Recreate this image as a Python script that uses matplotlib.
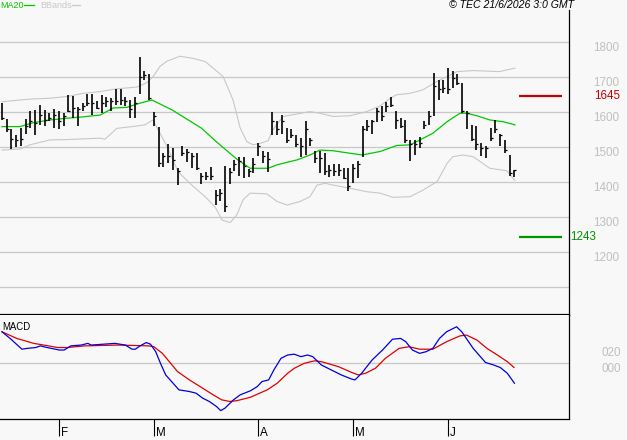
import matplotlib
matplotlib.use("Agg")
import matplotlib.pyplot as plt
import numpy as np
from matplotlib.lines import Line2D
from matplotlib.transforms import blended_transform_factory

plt.rcParams["font.family"] = ["Liberation Sans", "DejaVu Sans"]

# Barre giornaliere (massimo, minimo, chiusura)
highs = [1624, 1581, 1550, 1533, 1554, 1580, 1602, 1604, 1621, 1605,
         1597, 1609, 1602, 1597, 1647, 1645, 1614, 1626, 1652, 1651,
         1630, 1647, 1642, 1640, 1664, 1666, 1642, 1635, 1642, 1758,
         1718, 1709, 1600, 1557, 1483, 1509, 1497, 1440, 1504, 1495,
         1483, 1483, 1426, 1428, 1443, 1378, 1380, 1445, 1440, 1464,
         1471, 1471, 1437, 1468, 1511, 1488, 1485, 1599, 1573, 1590,
         1554, 1550, 1535, 1526, 1573, 1526, 1488, 1488, 1483, 1447,
         1450, 1450, 1440, 1440, 1450, 1459, 1559, 1578, 1578, 1611,
         1616, 1628, 1642, 1602, 1583, 1576, 1519, 1521, 1529, 1573,
         1602, 1711, 1692, 1692, 1726, 1716, 1707, 1683, 1602, 1564,
         1559, 1511, 1502, 1554, 1578, 1538, 1519, 1478, 1435]
lows = [1578, 1543, 1495, 1500, 1502, 1537, 1554, 1535, 1564, 1559,
        1575, 1554, 1550, 1559, 1601, 1583, 1559, 1602, 1616, 1592,
        1607, 1597, 1614, 1602, 1621, 1621, 1616, 1583, 1583, 1650,
        1690, 1634, 1561, 1443, 1443, 1454, 1433, 1390, 1475, 1456,
        1440, 1435, 1395, 1405, 1405, 1335, 1345, 1313, 1395, 1431,
        1416, 1411, 1414, 1426, 1473, 1454, 1428, 1535, 1535, 1538,
        1511, 1526, 1500, 1471, 1478, 1502, 1454, 1426, 1421, 1414,
        1418, 1418, 1407, 1373, 1397, 1411, 1471, 1545, 1538, 1571,
        1573, 1599, 1614, 1550, 1554, 1511, 1459, 1478, 1497, 1551,
        1564, 1588, 1635, 1654, 1650, 1669, 1678, 1597, 1550, 1516,
        1492, 1473, 1469, 1516, 1540, 1504, 1483, 1418, 1414]
closes = [1582, 1552, 1523, 1521, 1524, 1561, 1573, 1567, 1592, 1578,
          1583, 1592, 1573, 1588, 1602, 1611, 1609, 1618, 1626, 1626,
          1611, 1624, 1630, 1630, 1630, 1635, 1630, 1607, 1626, 1700,
          1705, 1640, 1588, 1454, 1473, 1473, 1464, 1430, 1483, 1485,
          1473, 1440, 1418, 1416, 1416, 1364, 1369, 1331, 1428, 1450,
          1459, 1445, 1430, 1450, 1502, 1475, 1466, 1573, 1550, 1573,
          1521, 1535, 1507, 1502, 1550, 1521, 1469, 1469, 1430, 1435,
          1430, 1433, 1411, 1388, 1440, 1450, 1550, 1559, 1573, 1602,
          1588, 1616, 1621, 1578, 1559, 1521, 1507, 1507, 1512, 1564,
          1588, 1673, 1664, 1669, 1664, 1697, 1683, 1602, 1597, 1523,
          1507, 1497, 1497, 1526, 1550, 1535, 1490, 1426, 1433]

# Media mobile 20 e bande di Bollinger (indice barra, valore)
ma20_idx = [0, 3.8, 6.5, 10.1, 13.7, 16.4, 20.7, 23.4, 26.3, 29.1, 31.6,
            35.8, 42.1, 44.9, 49.5, 52.3, 56.1, 58, 62.2, 64.9, 67, 69.8,
            73.3, 75.9, 79.7, 83.2, 86, 88.1, 90.8, 93.8, 96.5, 98, 100.1,
            102.8, 105.6, 108.1]
ma20 = [1558, 1558, 1569, 1577, 1582, 1585, 1591, 1611, 1613, 1625, 1634,
        1606, 1553, 1518, 1465, 1439, 1439, 1449, 1463, 1477, 1491, 1489,
        1482, 1477, 1487, 1504, 1506, 1520, 1539, 1572, 1596, 1596, 1589,
        1577, 1572, 1563]

bb_up_idx = [0, 3.8, 6.5, 10.1, 13.7, 17.1, 20.7, 24.2, 28.5, 30.6, 31.8,
             33.3, 34.8, 37.5, 40.2, 42.8, 44.5, 46.6, 48.7, 50.2, 51.6,
             52.9, 54.4, 56.1, 57.1, 59.2, 62.2, 64.9, 67, 69.8, 73.3, 76.9,
             79.7, 81.8, 83.2, 86, 88.7, 91.7, 95.9, 99.3, 104.9, 106.4, 108.1]
bb_up = [1629, 1634, 1637, 1639, 1644, 1653, 1658, 1666, 1671, 1684, 1700,
         1730, 1745, 1759, 1753, 1744, 1725, 1701, 1634, 1554, 1515, 1506,
         1510, 1518, 1549, 1587, 1594, 1601, 1596, 1587, 1589, 1601, 1617,
         1639, 1649, 1653, 1663, 1687, 1715, 1718, 1715, 1720, 1725]

bb_lo_idx = [0, 3.8, 5.9, 10.1, 13.7, 20.7, 21.7, 24.2, 27.4, 30.1, 31.8,
             33.3, 34.8, 37.1, 40, 42.8, 44.9, 46.4, 48.1, 49.5, 50.8, 52.3,
             55.8, 58, 60.1, 62.8, 64.9, 66.4, 68.1, 69.8, 73.3, 76.9, 79.7,
             82.4, 86, 88.5, 91.7, 93.8, 95, 97.2, 99.3, 102.8, 106.4, 108.1]
bb_lo = [1491, 1494, 1506, 1520, 1521, 1525, 1522, 1553, 1558, 1563, 1577,
         1539, 1501, 1429, 1391, 1358, 1329, 1291, 1284, 1306, 1349, 1368,
         1366, 1344, 1334, 1344, 1358, 1391, 1396, 1391, 1382, 1372, 1368,
         1356, 1358, 1375, 1401, 1453, 1472, 1477, 1472, 1439, 1432, 1404]

# MACD e linea del segnale
macd_idx = [0, 1.7, 4.2, 5.3, 7.1, 8.1, 9.5, 12.1, 13.1, 14.5, 16.7, 18.1,
            18.8, 23.8, 26, 27.4, 28.1, 29.1, 30.4, 31.3, 32.4, 33.4, 34.5,
            37.3, 39.5, 40.9, 42.3, 43.7, 45.2, 46.1, 47, 48.8, 50.2, 52.4,
            53.8, 54.8, 56.2, 57.3, 58.8, 60.2, 61.6, 63, 64.4, 65.5, 67.3,
            69.4, 71.5, 73.7, 74.4, 75.8, 78, 80.2, 82.3, 84, 85.1, 86.5, 88,
            89.4, 90.8, 92.2, 93.7, 95.8, 96.9, 99.3, 101.9, 103.6, 105,
            106.5, 108]
macd = [0.38, 0.30, 0.17, 0.18, 0.19, 0.21, 0.19, 0.16, 0.16, 0.21, 0.22,
        0.24, 0.22, 0.24, 0.22, 0.17, 0.17, 0.21, 0.25, 0.23, 0.14, 0.0,
        -0.14, -0.32, -0.34, -0.36, -0.42, -0.46, -0.52, -0.57, -0.54,
        -0.44, -0.38, -0.33, -0.28, -0.22, -0.20, -0.08, 0.06, 0.10, 0.11,
        0.08, 0.10, 0.08, -0.02, -0.08, -0.14, -0.19, -0.20, -0.12, 0.04,
        0.16, 0.29, 0.30, 0.26, 0.16, 0.12, 0.14, 0.18, 0.30, 0.38, 0.44,
        0.38, 0.18, 0.01, -0.02, -0.05, -0.12, -0.24]
signal_idx = [0, 3.1, 6.7, 8.8, 11.7, 13.8, 17.4, 24.5, 30.9, 32, 33.8, 37,
              39.5, 42.3, 44.5, 46.3, 48, 49.5, 52.3, 55.9, 58, 60.2, 61.6,
              63.7, 65.9, 67.3, 70.9, 73.7, 75.1, 76.6, 78.7, 80.8, 83.7,
              85.8, 88, 90.8, 93.7, 96.5, 97.9, 100.1, 102.2, 104.4, 106.5,
              107.9]
signal = [0.38, 0.30, 0.24, 0.22, 0.19, 0.19, 0.21, 0.22, 0.21, 0.20, 0.12,
          -0.10, -0.20, -0.30, -0.38, -0.44, -0.46, -0.45, -0.41, -0.32,
          -0.24, -0.12, -0.06, 0.0, 0.03, 0.02, -0.04, -0.11, -0.14, -0.12,
          -0.06, 0.06, 0.18, 0.20, 0.17, 0.17, 0.26, 0.33, 0.34, 0.28,
          0.18, 0.10, 0.02, -0.05]

month_ticks = [12, 32, 54, 74, 94]
month_labels = ["F", "M", "A", "M", "J"]

price_ticks = [1100, 1200, 1300, 1400, 1500, 1600, 1700, 1800]
price_labels = ["", "1200", "1300", "1400", "1500", "1600", "1700", "1800"]

resistenza = 1645
supporto = 1243

BG = "#f8f8f8"
GRID = "#c8c8c8"
W, H = 627, 440
PT = 0.72  # punti per pixel a 100 dpi

fig = plt.figure(figsize=(W / 100, H / 100), dpi=100, facecolor=BG)


def px_axes(left, top, right, bottom):
    return fig.add_axes([left / W, 1 - bottom / H, (right - left) / W, (bottom - top) / H],
                        facecolor=BG)


ax = px_axes(0, 10, 569, 315)
mx = px_axes(0, 315, 569, 419)

idx = np.arange(len(closes))

# Pannello prezzi
ax.plot(bb_up_idx, bb_up, color="#c8c8c8", lw=0.8)
ax.plot(bb_lo_idx, bb_lo, color="#c8c8c8", lw=0.8)
ax.plot(ma20_idx, ma20, color="#00c800", lw=0.9)
ax.vlines(idx, lows, highs, color="black", lw=1.2)
ax.hlines(closes, idx, idx + 0.42, color="black", lw=0.9)

tr = blended_transform_factory(ax.transAxes, ax.transData)
ax.hlines([resistenza], 0.912, 0.988, transform=tr, color="#c80000", lw=1.6)
ax.hlines([supporto], 0.912, 0.988, transform=tr, color="#009600", lw=1.6)
ax.text(594 / 569, resistenza, str(resistenza), transform=tr, color="#c80000",
        fontsize=8.4, ha="left", va="center")
ax.text(570 / 569, supporto, str(supporto), transform=tr, color="#009600",
        fontsize=8.4, ha="left", va="center")

ax.set_xlim(-0.42, 119.5)
ax.set_ylim(1020, 1891)
ax.set_yticks(price_ticks)
ax.set_yticklabels(price_labels)
ax.set_xticks([])
ax.yaxis.tick_right()
ax.tick_params(axis="y", length=0, pad=24 * PT, labelsize=8.4, labelcolor="#c0c0c0")
for lbl in ax.get_yticklabels():
    lbl.set_va("top")
ax.grid(axis="y", color=GRID, lw=0.9)
ax.set_axisbelow(True)
for s in ["left", "top"]:
    ax.spines[s].set_visible(False)
ax.spines["bottom"].set_linewidth(1.6)
ax.spines["right"].set_linewidth(0.9)

# Pannello MACD
mx.axhline(0, color=GRID, lw=0.9)
mx.plot(signal_idx, signal, color="#e00000", lw=0.9)
mx.plot(macd_idx, macd, color="#0000e0", lw=0.9)
mx.set_xlim(-0.42, 119.5)
mx.set_ylim(-0.671, 0.582)
mx.set_yticks([0, 0.2])
mx.set_yticklabels(["000", "020"])
mx.yaxis.tick_right()
mx.tick_params(axis="y", length=0, pad=32 * PT, labelsize=8.4, labelcolor="#c0c0c0")
for lbl in mx.get_yticklabels():
    lbl.set_va("top")
mx.set_xticks(month_ticks)
mx.set_xticklabels([])
mx.tick_params(axis="x", direction="out", length=12, width=0.8, color="black")
trm = blended_transform_factory(mx.transData, mx.transAxes)
for t, l in zip(month_ticks, month_labels):
    mx.text(t + 0.45, -0.135, l, transform=trm, fontsize=8.4, ha="left", va="center")
for s in ["left", "top"]:
    mx.spines[s].set_visible(False)
mx.spines["bottom"].set_linewidth(0.9)
mx.spines["right"].set_linewidth(0.9)
mx.text(0.004, 0.885, "MACD", transform=mx.transAxes, fontsize=6.9, va="center")

# Intestazione
fig.text(0, 1 - 5 / H, "MA20", color="#00c800", fontsize=6.5, va="center")
fig.add_artist(Line2D([24 / W, 34 / W], [1 - 5 / H] * 2, color="#00c800", lw=0.9))
fig.text(40.7 / W, 1 - 5 / H, "BBands", color="#c8c8c8", fontsize=6.5, va="center")
fig.add_artist(Line2D([72 / W, 80 / W], [1 - 5 / H] * 2, color="#c8c8c8", lw=0.9))
fig.text(574 / W, 1 - 4.5 / H, "© TEC 21/6/2026 3:0 GMT", ha="right", va="center",
         style="italic", fontsize=7.6)

fig.savefig("out.png", dpi=100, facecolor=BG)
